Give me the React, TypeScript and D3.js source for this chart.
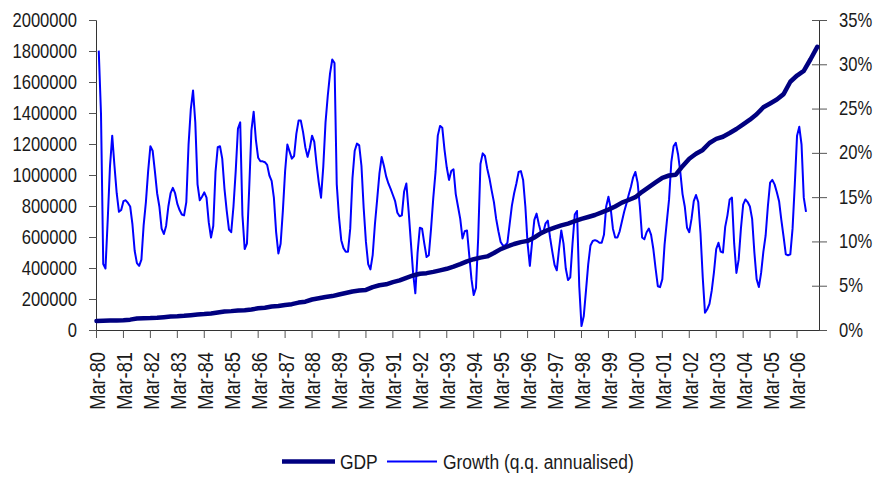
import React from "react";
import * as d3 from "d3";

// x positions are month indices from Mar-80 (0) onwards
const yearLabels = ["Mar-80","Mar-81","Mar-82","Mar-83","Mar-84","Mar-85","Mar-86","Mar-87","Mar-88","Mar-89","Mar-90","Mar-91","Mar-92","Mar-93","Mar-94","Mar-95","Mar-96","Mar-97","Mar-98","Mar-99","Mar-00","Mar-01","Mar-02","Mar-03","Mar-04","Mar-05","Mar-06"];

const leftTicks = [0,200000,400000,600000,800000,1000000,1200000,1400000,1600000,1800000,2000000];
const rightTicks = [0,5,10,15,20,25,30,35];

// GDP, quarterly from Mar-80 to Dec-06
const gdpQuarterly = [
  62000,63000,64000,65000,66000,70000,77000,79000,80000,82000,86000,90000,
  92000,95000,99000,103000,106000,110000,116000,122000,125000,129000,131000,136000,
  143000,147000,155000,158000,165000,170000,180000,186000,200000,208000,216000,222000,
  232000,242000,252000,258000,262000,280000,292000,298000,312000,323000,340000,355000,
  366000,370000,378000,388000,398000,412000,428000,446000,460000,470000,478000,500000,
  525000,542000,558000,570000,578000,600000,628000,648000,664000,678000,690000,705000,
  720000,732000,745000,762000,780000,800000,825000,842000,860000,895000,925000,955000,
  985000,1000000,1005000,1060000,1108000,1140000,1165000,1210000,1236000,1250000,1274000,1300000,
  1330000,1360000,1395000,1440000,1465000,1490000,1525000,1605000,1645000,1675000,1750000,1830000
];

// Growth (q.q. annualised, %), monthly from Apr-80
const growthStart = 1;
const growth = [
  31.6,24.5,7.5,7.0,12.5,18.5,22.0,18.6,15.5,13.4,13.6,
  14.6,14.7,14.4,14.0,12.0,9.0,7.6,7.3,8.0,11.9,14.5,18.0,
  20.8,20.3,18.0,15.5,14.0,11.5,10.9,11.8,14.0,15.5,16.1,15.5,
  14.3,13.6,13.1,13.0,14.5,21.0,25.0,27.1,23.5,16.5,14.7,15.1,
  15.6,15.0,12.2,10.5,11.8,17.9,20.7,20.8,19.4,16.0,13.5,11.4,
  11.1,14.0,18.0,22.8,23.5,13.0,9.2,9.8,16.0,22.6,24.7,21.5,
  19.5,19.1,19.1,19.0,18.7,17.5,16.9,15.0,11.1,8.7,9.8,13.5,
  18.0,21.0,20.2,19.4,19.7,22.2,23.7,23.7,22.4,20.7,19.6,20.6,
  22.0,21.3,18.8,16.7,15.0,18.5,23.5,26.5,29.0,30.6,30.2,16.5,
  12.8,10.2,9.3,8.9,8.9,11.5,17.2,20.3,21.1,20.9,18.6,13.8,
  10.0,7.5,6.9,8.5,12.0,14.8,17.7,19.6,18.6,17.4,16.6,16.0,
  15.3,14.6,13.3,12.9,13.0,15.7,16.6,13.5,10.0,6.5,4.2,8.8,
  11.6,11.5,9.8,8.3,8.5,11.5,15.0,17.9,22.0,23.1,22.9,20.4,
  18.4,17.0,18.0,18.2,15.4,14.0,12.6,10.4,11.2,11.3,8.5,5.8,
  4.0,4.8,10.5,18.8,20.0,19.7,18.3,17.2,15.8,14.5,12.6,11.2,
  10.0,9.6,9.6,9.9,12.0,14.1,15.5,16.6,17.9,18.0,17.0,14.0,
  9.8,7.3,10.0,12.5,13.2,12.0,11.0,11.1,12.1,12.4,10.5,8.9,
  7.4,6.8,9.2,11.3,9.8,7.0,5.7,6.0,9.8,13.1,13.5,5.0,
  0.5,1.6,4.5,7.5,9.6,10.1,10.2,10.1,9.9,9.9,10.8,14.0,
  15.1,13.8,11.5,10.5,10.5,11.2,12.3,13.4,14.3,15.3,16.2,17.3,
  17.9,16.7,14.0,10.5,10.3,11.1,11.5,10.8,9.2,7.0,5.0,4.9,
  5.8,9.7,12.3,14.8,19.0,20.8,21.2,19.9,17.9,15.4,14.0,11.6,
  11.1,12.6,14.6,15.3,14.5,11.0,6.0,2.0,2.4,3.0,4.5,6.6,
  9.2,9.9,8.9,8.8,11.7,13.0,14.8,15.0,9.8,6.5,8.0,11.5,
  14.2,14.8,14.5,14.0,12.6,8.8,5.8,4.9,6.5,8.9,10.7,14.0,
  16.7,17.0,16.5,15.6,14.6,12.5,10.6,8.6,8.5,8.6,11.5,16.5,
  22.0,23.0,21.0,15.0,13.4
];

const FONT = "'Liberation Sans', Arial, sans-serif";
const NARROW = 0.83;

export default function App() {
  const W = 876, H = 477;
  const x = d3.scaleLinear().domain([0, 322]).range([96.5, 819.5]);
  const yL = d3.scaleLinear().domain([0, 2000000]).range([330.5, 20.5]);
  const yR = d3.scaleLinear().domain([0, 35]).range([330.5, 20.5]);

  const gdpPts = gdpQuarterly.map((v, i) => [i * 3, v] as [number, number]);
  const grPts = growth.map((v, i) => [i + growthStart, v] as [number, number]);

  const gdpLine = d3.line<[number, number]>().x(d => x(d[0])).y(d => yL(d[1]));
  const grLine = d3.line<[number, number]>().x(d => x(d[0])).y(d => yR(d[1]));

  const axisColor = "#333";
  const tickColor = "#555";
  const txt = "#1a1a1a";

  return (
    <svg width={W} height={H} style={{ position: "absolute", left: 0, top: 0, background: "#fff" }} fontFamily={FONT}>
      <rect x={0} y={0} width={W} height={H} fill="#fff" />
      {/* left axis */}
      <line x1={96.5} x2={96.5} y1={yL(2000000)} y2={yL(0)} stroke={axisColor} />
      {leftTicks.map(t => (
        <g key={"l" + t}>
          <line x1={89} x2={96.5} y1={yL(t)} y2={yL(t)} stroke={tickColor} />
          <g transform={`translate(77,${yL(t)}) scale(${NARROW},1)`}>
            <text x={0} y={0} dy="0.3em" textAnchor="end" fontSize={20} fill={txt}>{t}</text>
          </g>
        </g>
      ))}
      {/* right axis */}
      <line x1={819.5} x2={819.5} y1={yR(35)} y2={yR(0)} stroke={axisColor} />
      {rightTicks.map(t => (
        <g key={"r" + t}>
          <line x1={812} x2={827} y1={yR(t)} y2={yR(t)} stroke={tickColor} />
          <g transform={`translate(839,${yR(t)}) scale(${NARROW},1)`}>
            <text x={0} y={0} dy="0.3em" textAnchor="start" fontSize={20} fill={txt}>{t + "%"}</text>
          </g>
        </g>
      ))}
      {/* bottom axis */}
      <line x1={96.5} x2={819.5} y1={330.5} y2={330.5} stroke={axisColor} />
      {yearLabels.map((lab, k) => {
        const xx = x(k * 12);
        return (
          <g key={lab}>
            <line x1={xx} x2={xx} y1={330.5} y2={338} stroke={tickColor} />
            <g transform={`translate(${xx + 0.5},352) rotate(-90) scale(${NARROW},1)`}>
              <text x={0} y={0} dy="0.36em" textAnchor="end" fontSize={22} fill={txt}>{lab}</text>
            </g>
          </g>
        );
      })}
      {/* series */}
      <path d={grLine(grPts) || ""} fill="none" stroke="#0000ff" strokeWidth={2} strokeLinejoin="round" />
      <path d={gdpLine(gdpPts) || ""} fill="none" stroke="#000080" strokeWidth={4.5} strokeLinejoin="round" strokeLinecap="round" />
      {/* legend */}
      <line x1={282} x2={335} y1={461.5} y2={461.5} stroke="#000080" strokeWidth={4.5} />
      <g transform={`translate(340,461.5) scale(${NARROW},1)`}>
        <text x={0} y={0} dy="0.35em" fontSize={21} fill={txt}>GDP</text>
      </g>
      <line x1={387} x2={437} y1={461.5} y2={461.5} stroke="#0000ff" strokeWidth={2} />
      <g transform={`translate(443,461.5) scale(${NARROW},1)`}>
        <text x={0} y={0} dy="0.35em" fontSize={21} fill={txt}>Growth (q.q. annualised)</text>
      </g>
    </svg>
  );
}
